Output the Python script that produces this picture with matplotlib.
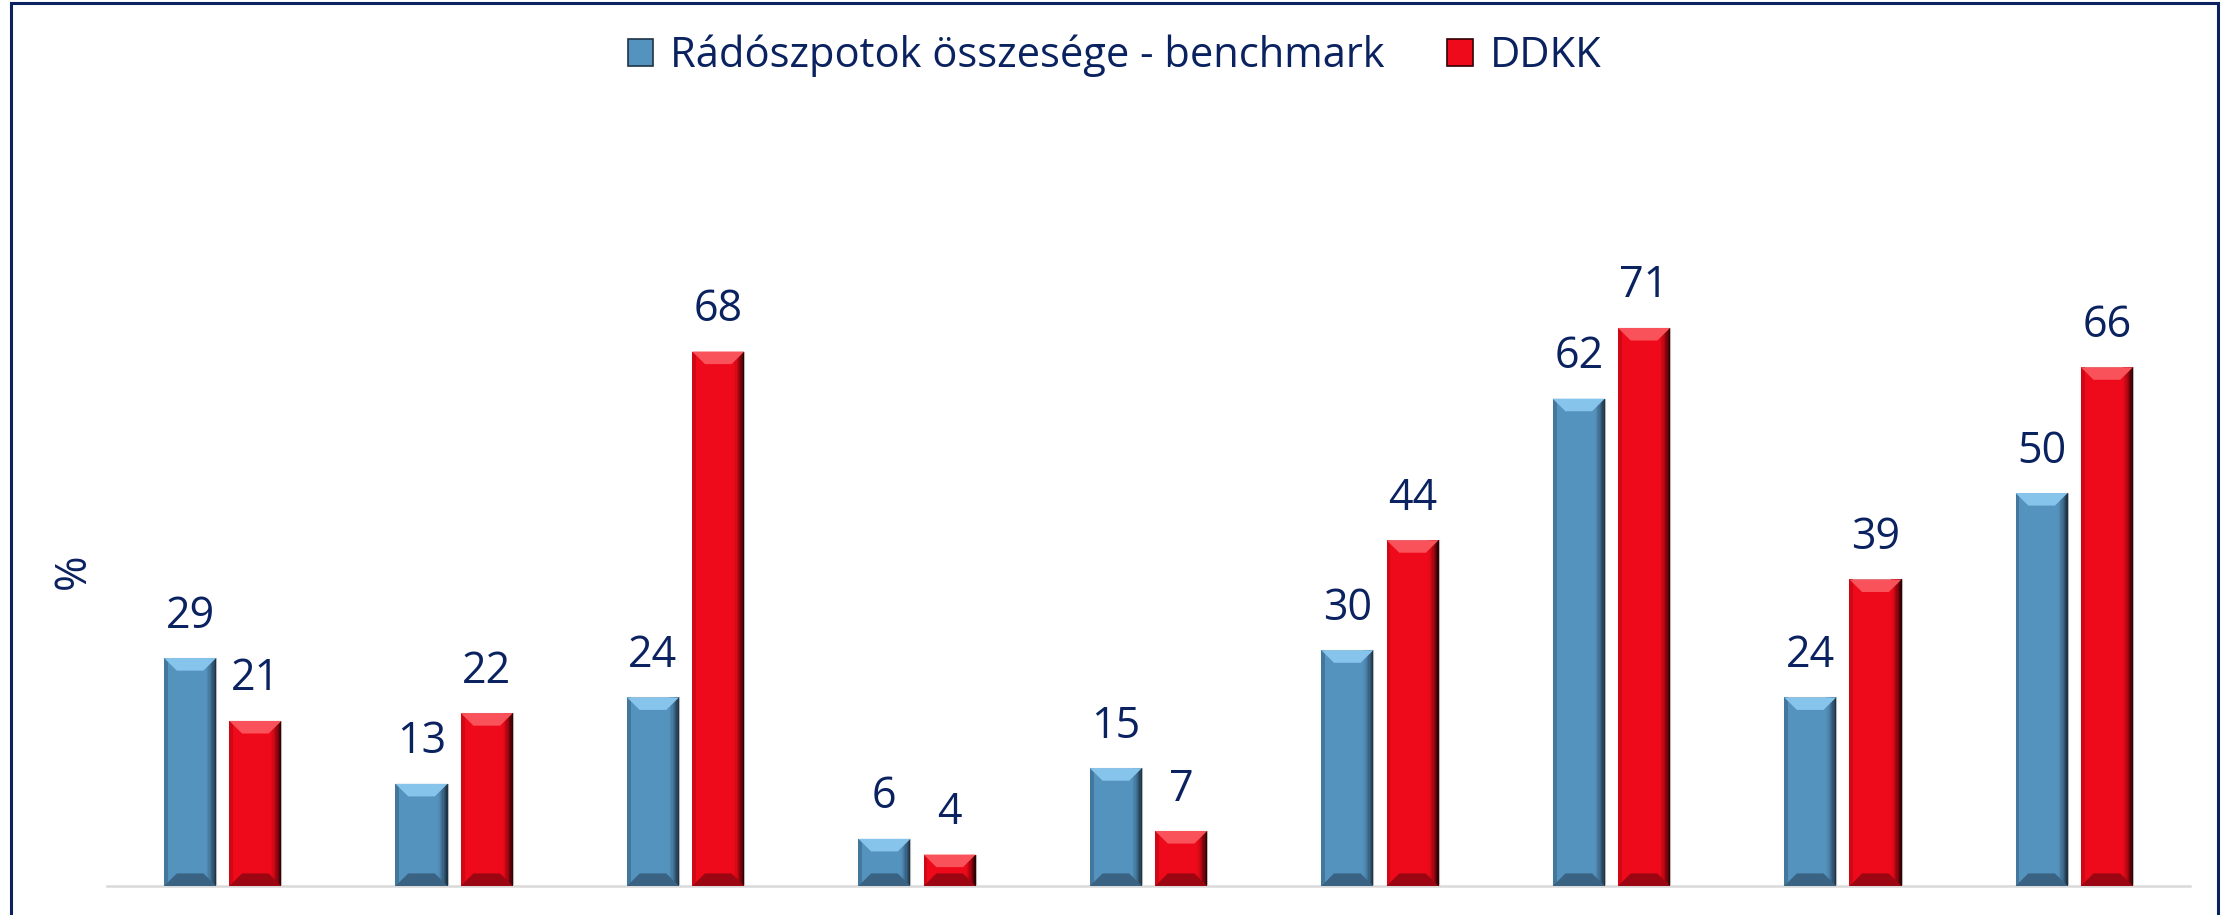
import numpy as np
import matplotlib
matplotlib.use('Agg')
import matplotlib.pyplot as plt
from matplotlib.patches import Polygon, Rectangle

# values
categories = ['1', '2', '3', '4', '5', '6', '7', '8', '9']
benchmark = [29, 13, 24, 6, 15, 30, 62, 24, 50]
ddkk = [21, 22, 68, 4, 7, 44, 71, 39, 66]
series_names = ['Rádószpotok összesége - benchmark', 'DDKK']

navy = '#0B2260'
plt.rcParams['font.family'] = ['Open Sans', 'DejaVu Sans']

# face, top bevel, right edge, bottom bevel, left edge
blue_shades = ['#5593BF', '#86C4EC', '#1E3446', '#3A6383', '#44779C']
red_shades = ['#EE0A1A', '#F9525A', '#300003', '#9C0612', '#D00815']

fig = plt.figure(figsize=(22.29, 9.15), dpi=100)
ax = fig.add_axes([107 / 2229, 29 / 915, 2083 / 2229, 786 / 915])

x = np.arange(len(categories))
w = 0.225
off = 0.141


def bevel(ax, bars, shades):
    bx = 0.055  # bevel depth in x (category units)
    by = 1.6    # bevel depth in y (data units)
    c1 = np.array(matplotlib.colors.to_rgb(shades[0]))
    c2 = np.array(matplotlib.colors.to_rgb(shades[2]))
    for b in bars:
        x0 = b.get_x()
        x1 = x0 + b.get_width()
        h = b.get_height()
        d = min(by, h / 2)
        dx = min(bx, b.get_width() / 2)
        # right edge, shaded strips
        n = 8
        for i in range(n):
            xa = x1 - dx * 0.8 * (i + 1) / n
            xb = x1 - dx * 0.8 * i / n
            t = (1 - i / n) ** 1.5
            col = c1 * (1 - t) + c2 * t
            ax.add_patch(Rectangle((xa, 0), xb - xa, h, fc=col, ec='none', zorder=3))
        # left edge
        ax.add_patch(Rectangle((x0, 0), dx * 0.3, h, fc=shades[4], ec='none', zorder=3))
        # top
        ax.add_patch(Polygon([(x0, h), (x1, h), (x1 - dx, h - d), (x0 + dx, h - d)],
                             closed=True, fc=shades[1], ec='none', zorder=4))
        # bottom
        ax.add_patch(Polygon([(x0, 0), (x1, 0), (x1 - dx, d), (x0 + dx, d)],
                             closed=True, fc=shades[3], ec='none', zorder=4))
        b.set_edgecolor('#B8B8B8')
        b.set_linewidth(0.8)


b1 = ax.bar(x - off, benchmark, w, color=blue_shades[0], zorder=2)
b2 = ax.bar(x + off, ddkk, w, color=red_shades[0], zorder=2)
bevel(ax, b1, blue_shades)
bevel(ax, b2, red_shades)

for bars, vals in [(b1, benchmark), (b2, ddkk)]:
    for b, v in zip(bars, vals):
        ax.annotate(str(v), (b.get_x() + b.get_width() / 2, v), xytext=(0, 14),
                    textcoords='offset points', ha='center', va='bottom',
                    fontsize=31, color=navy)

ax.set_xlim(-0.5, len(categories) - 0.5)
ax.set_ylim(0, 100)
for s in ['top', 'right', 'left']:
    ax.spines[s].set_visible(False)
ax.spines['bottom'].set_color('#D9D9D9')
ax.spines['bottom'].set_linewidth(1.8)
ax.set_xticks([])
ax.set_yticks([])

fig.text(74 / 2229, 1 - 571 / 915, '%', rotation=90, ha='center', va='center',
         fontsize=31, color=navy)

# legend
handles = [Rectangle((0, 0), 1, 1, fc=blue_shades[0], ec=blue_shades[2], lw=1.2),
           Rectangle((0, 0), 1, 1, fc=red_shades[0], ec=red_shades[2], lw=1.2)]
fig.legend(handles, series_names, loc='center', bbox_to_anchor=(0.5, 1 - 56 / 915),
           ncol=2, frameon=False, fontsize=30, labelcolor=navy,
           handlelength=0.62, handleheight=0.62, handletextpad=0.4, columnspacing=1.5)

# outer frame
fig.add_artist(Rectangle((11 / 2229, -0.05), (2218 - 11) / 2229, 1.05 - 3 / 915,
                         transform=fig.transFigure, fill=False, ec=navy, lw=2.2))

fig.savefig('out.png', dpi=100)
